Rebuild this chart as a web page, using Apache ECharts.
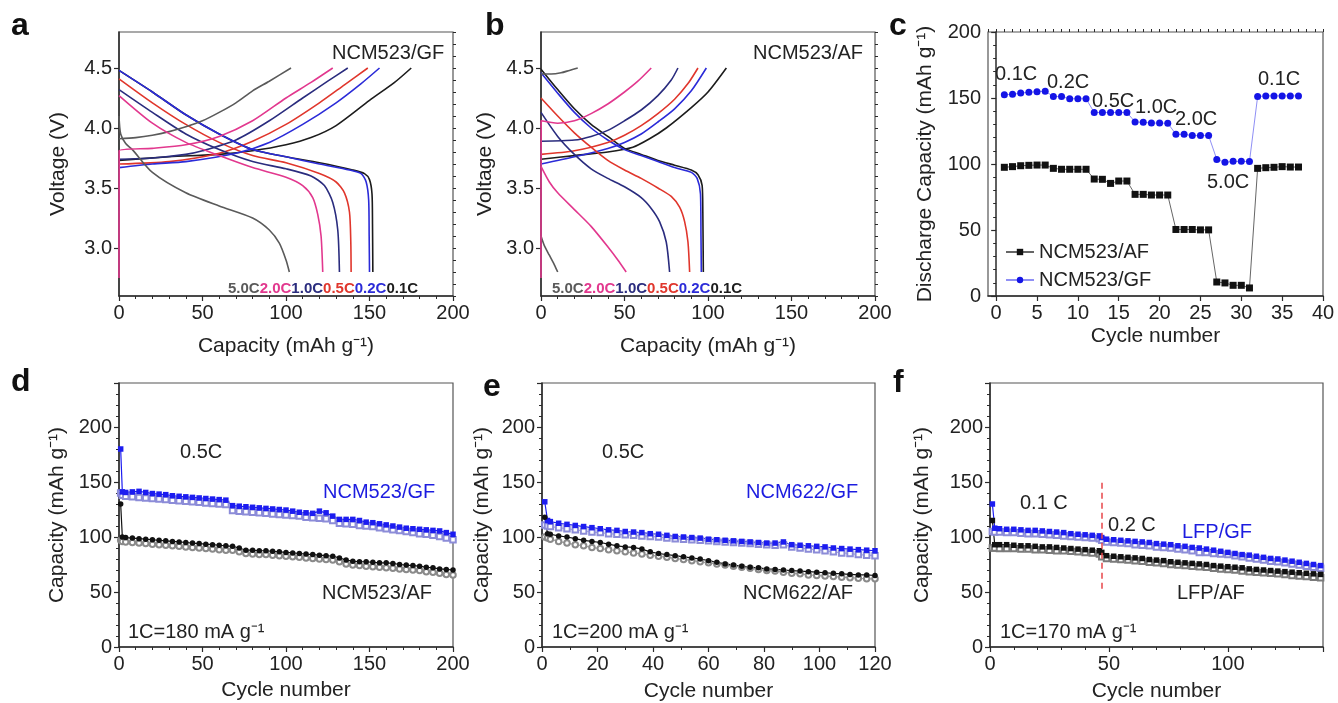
<!DOCTYPE html>
<html><head><meta charset="utf-8">
<script src="https://cdn.jsdelivr.net/npm/echarts@6/dist/echarts.min.js"></script>
<style>html,body{margin:0;padding:0;background:#fff}#chart{width:1338px;height:703px}</style>
</head><body><div id="chart"></div>
<script>
// ---------------- DATA ----------------
// Panel a: NCM523/GF charge (chg) / discharge (dis) curves, [capacity, voltage]
const aChg01 = [[0,3.73],[30,3.76],[60,3.78],[80,3.81],[100,3.86],[115,3.92],[130,4.02],[150,4.23],[165,4.38],[175,4.5]];
const aChg02 = [[0,3.67],[20,3.7],[40,3.72],[70,3.79],[90,3.88],[110,4.03],[130,4.21],[145,4.37],[156,4.5]];
const aChg05 = [[0,3.7],[30,3.72],[60,3.79],[80,3.89],[100,4.03],[120,4.21],[135,4.36],[149,4.5]];
const aChg10 = [[0,3.74],[20,3.75],[40,3.78],[50,3.81],[70,3.9],[90,4.06],[110,4.25],[125,4.39],[137,4.5]];
const aChg20 = [[0,2.75],[0.1,3.81],[20,3.83],[40,3.86],[60,3.93],[80,4.06],[100,4.25],[115,4.38],[128,4.5]];
const aChg50 = [[0,3.91],[10,3.92],[20,3.94],[30,3.97],[40,4.01],[50,4.06],[60,4.13],[70,4.21],[80,4.31],[90,4.39],[103,4.5]];
const aDis01 = [[0,4.48],[20,4.3],[40,4.11],[60,3.95],[80,3.82],[100,3.76],[120,3.71],[140,3.65],[147,3.62],[150,3.57],[151.5,3.45],[151.8,3.2],[152,2.8]];
const aDis02 = [[0,4.48],[20,4.3],[40,4.11],[60,3.95],[80,3.82],[100,3.76],[120,3.7],[138,3.65],[145,3.62],[148,3.55],[149.5,3.4],[149.8,3.1],[150,2.8]];
const aDis05 = [[0,4.41],[20,4.21],[40,4.03],[60,3.88],[80,3.77],[100,3.71],[120,3.62],[130,3.55],[135,3.46],[138,3.3],[138.8,3.05],[139,2.8]];
const aDis10 = [[0,4.32],[20,4.13],[40,3.95],[60,3.82],[80,3.72],[100,3.66],[115,3.6],[123,3.52],[128,3.38],[131,3.15],[132,2.8]];
const aDis20 = [[0,4.27],[20,4.04],[40,3.88],[60,3.77],[80,3.67],[100,3.59],[110,3.52],[116,3.42],[119,3.28],[121,3.1],[122,2.8]];
const aDis50 = [[0,4.1],[1,3.95],[4,3.87],[8,3.82],[20,3.63],[40,3.46],[60,3.35],[80,3.25],[90,3.15],[96,3.04],[100,2.9],[102,2.8]];

// Panel b: NCM523/AF
const bChg01 = [[0,3.74],[20,3.77],[40,3.8],[55,3.84],[65,3.91],[75,4.0],[90,4.17],[100,4.3],[111,4.5]];
const bChg02 = [[0,3.7],[20,3.76],[40,3.83],[50,3.88],[60,3.95],[70,4.05],[80,4.16],[90,4.31],[99,4.5]];
const bChg05 = [[0,3.78],[20,3.81],[40,3.88],[50,3.94],[60,4.02],[70,4.12],[80,4.24],[88,4.37],[94,4.5]];
const bChg10 = [[0,3.89],[20,3.9],[30,3.93],[40,3.98],[50,4.06],[60,4.15],[70,4.27],[78,4.4],[82,4.5]];
const bChg20 = [[0,2.75],[0.1,4.06],[10,4.04],[20,4.06],[30,4.12],[40,4.2],[50,4.3],[58,4.39],[66,4.5]];
const bChg50 = [[0,4.45],[6,4.45],[12,4.46],[17,4.48],[22,4.5]];
const bDis01 = [[0,4.49],[10,4.32],[20,4.16],[30,4.03],[40,3.93],[50,3.83],[60,3.78],[70,3.73],[80,3.69],[90,3.65],[94,3.61],[96.5,3.52],[96.9,3.3],[97.2,2.8]];
const bDis02 = [[0,4.46],[10,4.29],[20,4.13],[30,4.0],[40,3.9],[50,3.82],[60,3.77],[70,3.72],[80,3.67],[90,3.63],[93.5,3.58],[95.5,3.45],[95.8,3.1],[96,2.8]];
const bDis05 = [[0,4.25],[10,4.1],[20,3.96],[30,3.84],[40,3.73],[50,3.65],[60,3.58],[70,3.5],[78,3.43],[83,3.34],[86,3.22],[88,3.05],[89,2.8]];
const bDis10 = [[0,4.13],[10,3.93],[20,3.78],[30,3.66],[40,3.58],[50,3.51],[60,3.42],[66,3.33],[71,3.22],[75,3.05],[77,2.8]];
const bDis20 = [[0,3.68],[5,3.55],[10,3.46],[20,3.32],[30,3.18],[40,3.01],[46,2.9],[51,2.8]];
const bDis50 = [[0,3.1],[2,3.02],[5,2.94],[8,2.86],[10,2.8]];

const rateLabels = ['5.0C','2.0C','1.0C','0.5C','0.2C','0.1C'];
const voltTicks = [3.0,3.5,4.0,4.5];

// Panel c: rate capability
const cCycles = [1,2,3,4,5,6,7,8,9,10,11,12,13,14,15,16,17,18,19,20,21,22,23,24,25,26,27,28,29,30,31,32,33,34,35,36,37];
const cGF = [152.4,152.9,153.7,154.4,154.7,155.2,151.1,151.1,149.4,149.4,149.4,139,139,139,139,139,131.9,131.6,131,131,130.9,122.5,122.5,121.5,121.5,121.5,103.5,101.3,102,102,101.8,151.1,151.6,151.6,151.6,151.6,151.6];
const cAF = [97.5,98,98.7,99,99.2,99.2,96.7,96,96,96,96,88.6,88.4,85.3,87.1,87.1,77,77,76.5,76.5,76.5,50.4,50.4,50.4,50.1,50.1,10.6,9.9,8.1,8.1,6.1,96.7,97.2,97.5,98,97.7,97.7];
const cXTicks = [0,5,10,15,20,25,30,35,40];
const cRateText = ['0.1C','0.2C','0.5C','1.0C','2.0C','5.0C','0.1C'];

// Panel d: NCM523 cycling at 0.5C
const dCycles = [1,2,4,8,12,16,20,24,28,32,36,40,44,48,52,56,60,64,68,72,76,80,84,88,92,96,100,104,108,112,116,120,124,128,132,136,140,144,148,152,156,160,164,168,172,176,180,184,188,192,196,200];
const dGFfilled = [180,141,140.5,141,141.5,140.5,139.5,139,138.5,137.5,137,136.5,136,135.5,135,134.5,134,133.5,128.5,128,127.5,127,126.5,126,125.5,125,124.5,123.5,122.5,122,121.5,123.5,122,119,116,116,116,115,113.5,113,112,111,110,109,108,107.5,107,106.5,106,105.5,104,102.5];
const dGFopen = [140,138,137,136.5,136,135.5,135,134.5,134,133.5,133,132.5,132,131.5,131,130.5,130,129.5,124,123.5,123,122.5,122,121.5,121,120.5,120,119.5,119,118,117.5,117,116.5,115,112.5,112,111.5,110.5,110,109.5,108.5,107.5,106.5,106,105,104,103,102.5,101.5,100.5,99,97.5];
const dAFfilled = [130,100,99.5,99,98.5,98,97.5,97,96.5,96,95.5,95,94.5,94,93.5,93,92.5,92,91.5,90,88,88,87.5,87.5,87,86.5,86,85.5,85,84.5,84,83.5,83,82.5,81,79,78,77.5,77.5,77,76.5,76.5,76,75,74.5,74,73.5,72.5,72,71,70.5,70];
const dAFopen = [97,96,95.5,95,94.5,94,93.5,93,92.5,92,91.5,91,90.5,90,89.5,89,88.5,88,88,86.5,85,84.5,84,84,83.5,83,82.5,82,81.5,81,80.5,80,79.5,79,77.5,75.5,74.5,74,73.5,73,72.5,72,71.5,71,70.5,70,69.5,68.5,68,67,66,65.5];

// Panel e: NCM622 cycling at 0.5C
const eCycles = [1,2,3,6,9,12,15,18,21,24,27,30,33,36,39,42,45,48,51,54,57,60,63,66,69,72,75,78,81,84,87,90,93,96,99,102,105,108,111,114,117,120];
const eGFfilled = [132,115,114,112.5,111.5,110.5,109.5,108.5,107.5,106.5,106,105,104.5,104,103,102.5,101.5,100.5,100,99.5,99,98,97.5,97,96.5,96,95.5,95,94.5,94.5,95.5,93,92.5,92,91.5,91,90,89.5,89,88.5,88,87.5];
const eGFopen = [111,110,109.5,108.5,107.5,106.5,105.5,104.5,104,103,102.5,102,101.5,101,100.5,100,99,98.5,98,97.5,97,96.5,96,95.5,95,94.5,94,93.5,93,92.5,93,91,90,89,88.5,87.5,86.5,85.5,85,84,83.5,83];
const eAFfilled = [118,103,102.5,101,100,98.5,97,96,95,93.5,92,91,90.5,89,86.5,85,84,83,82,81,80,78.5,77,75.5,74.5,73.5,72.5,72,71,70.5,70,69.5,69,68.5,68,67.5,67,66.5,66,65.5,65.5,65];
const eAFopen = [100,99,98,96,94.5,93,92,90.5,89.5,88.5,87.5,86.5,85.5,84.5,83.5,82.5,81.5,80.5,79.5,78.5,77.5,76.5,75.5,74.5,73.5,72.5,71.5,70.5,69.5,69,68,67,66.5,65.5,65,64.5,64,63.5,63,62.5,62,62];

// Panel f: LFP cycling (0.1C then 0.2C)
const fCycles = [1,2,4,7,10,13,16,19,22,25,28,31,34,37,40,43,46,47,49,52,55,58,61,64,67,70,73,76,79,82,85,88,91,94,97,100,103,106,109,112,115,118,121,124,127,130,133,136,139];
const fGFfilled = [130,108,107.5,107,107,106.5,106,106,105.5,105,104.5,104,103,102.5,102,101.5,101,99.5,98,97.5,97,96.5,96,95.5,95,94,93.5,93,92,91.5,90.5,90,89,88,87,86,85,84,83.5,82.5,81.5,80.5,80,79,78,77,76,75,74];
const fGFopen = [105,104.5,104.5,104,104,103.5,103,103,102.5,102,101.5,101,100.5,100,99.5,99,98.5,97,95.5,95,94.5,94,93,92.5,92,91,90.5,90,89,88.5,87.5,86,86,85,84.5,84,83,82,81,80,79,78,77.5,76.5,75.5,74.5,73.5,72.5,71.5];
const fAFfilled = [115,93,93,93,92.5,92,92,91.5,91,91,90.5,90,89.5,89,88.5,88,87.5,86,83,82.5,82,81.5,81,80.5,79.5,79,78.5,77.5,77,76.5,76,75.5,75,74,73.5,73,72.5,72,71,70.5,70,69.5,69,68.5,68,67.5,67,66.5,66];
const fAFopen = [90,90,89.5,89.5,89.5,89,89,88.5,88.5,88,87.5,87.5,87,86.5,86,85.5,84.5,82,80.5,80,79.5,79,78.5,78,77,76.5,76,75,74.5,74,73.5,73,72.5,71.5,71,70.5,70,69,68.5,68,67.5,67,66.5,66,65,64.5,64,63.5,63];
const fSwitchCycle = 47;
const fSwitchRange = [53,153];

// ---------------- STYLE ----------------
const FF = '"Liberation Sans", Arial, Helvetica, sans-serif';
const rateColors = {'0.1C':'#1c1c1c','0.2C':'#2b2bd8','0.5C':'#e0362c','1.0C':'#2a2c7e','2.0C':'#e2388e','5.0C':'#5a5a5a'};
const AX = '#2a2a2a';
const SUP = '\u207B\u00B9';

const grids = [
  {left:119, top:32, width:334, height:264},
  {left:541, top:32, width:334, height:264},
  {left:988, top:32, width:335, height:264},
  {left:119, top:383, width:334, height:264},
  {left:542, top:383, width:333, height:264},
  {left:990, top:383, width:333, height:264}
].map(g => Object.assign(g, {show:true, borderColor:'#555', borderWidth:1.2, containLabel:false, outerBoundsMode:'none'}));

function axisBase(extra) {
  const base = {
    type:'value', nameLocation:'middle', nameMoveOverlap:false,
    nameTextStyle:{fontFamily:FF, fontSize:21, color:'#222'},
    axisLine:{show:true, lineStyle:{color:AX, width:1.5}},
    axisTick:{show:true, inside:false, length:5, lineStyle:{color:AX, width:1.2}},
    minorTick:{show:true, splitNumber:5, length:3, lineStyle:{color:AX, width:1}},
    axisLabel:{fontFamily:FF, fontSize:20, color:'#222', margin:7},
    splitLine:{show:false}, minorSplitLine:{show:false}
  };
  for (const k in extra) {
    if (typeof extra[k] === 'object' && !Array.isArray(extra[k]) && base[k]) base[k] = Object.assign({}, base[k], extra[k]);
    else base[k] = extra[k];
  }
  return base;
}
// overlay axis that only draws short minor ticks
function minorAxis(gridIndex, min, max, step) {
  return {type:'value', gridIndex:gridIndex, min:min, max:max, interval:step, silent:true,
    axisLine:{show:false}, axisLabel:{show:false}, splitLine:{show:false},
    axisTick:{show:true, inside:false, length:3, lineStyle:{color:AX, width:1}}};
}
const capName = 'Capacity (mAh g' + SUP + ')';
const xAxes = [
  axisBase({gridIndex:0, min:0, max:200, interval:50, name:capName, nameGap:40}),
  axisBase({gridIndex:1, min:0, max:200, interval:50, name:capName, nameGap:40}),
  axisBase({gridIndex:2, min:-1, max:40, name:'Cycle number', nameGap:30,
    axisLabel:{customValues:cXTicks}, axisTick:{customValues:cXTicks}, minorTick:{show:false}}),
  axisBase({gridIndex:3, min:0, max:200, interval:50, name:'Cycle number', nameGap:33}),
  axisBase({gridIndex:4, min:0, max:120, interval:20, name:'Cycle number', nameGap:34, minorTick:{splitNumber:2}}),
  axisBase({gridIndex:5, min:0, max:140, interval:50, name:'Cycle number', nameGap:34, axisLabel:{showMaxLabel:false}}),
  minorAxis(2, -1, 40, 1)
];
const voltFmt = v => v.toFixed(1);
const yAxes = [
  axisBase({gridIndex:0, min:2.6, max:4.8, name:'Voltage (V)', nameGap:50, nameRotate:90,
    axisLabel:{customValues:voltTicks, formatter:voltFmt}, axisTick:{customValues:voltTicks}, minorTick:{show:false}}),
  axisBase({gridIndex:1, min:2.6, max:4.8, name:'Voltage (V)', nameGap:45, nameRotate:90,
    axisLabel:{customValues:voltTicks, formatter:voltFmt}, axisTick:{customValues:voltTicks}, minorTick:{show:false}}),
  axisBase({gridIndex:2, min:0, max:200, interval:50, name:'Discharge Capacity (mAh g' + SUP + ')', nameGap:52, nameRotate:90}),
  axisBase({gridIndex:3, min:0, max:240, interval:50, name:capName, nameGap:51, nameRotate:90, axisLabel:{showMaxLabel:false}}),
  axisBase({gridIndex:4, min:0, max:240, interval:50, name:capName, nameGap:49, nameRotate:90, axisLabel:{showMaxLabel:false}}),
  axisBase({gridIndex:5, min:0, max:240, interval:50, name:capName, nameGap:57, nameRotate:90, axisLabel:{showMaxLabel:false}}),
  minorAxis(0, 2.6, 4.8, 0.1),
  minorAxis(1, 2.6, 4.8, 0.1)
];

const series = [];
function curve(gi, data, rate) {
  series.push({type:'line', xAxisIndex:gi, yAxisIndex:gi, data:data, showSymbol:false, symbol:'none',
    smooth:0.25, silent:true, lineStyle:{color:rateColors[rate], width:1.6}, itemStyle:{color:rateColors[rate]}});
}
// panel a
curve(0,aChg01,'0.1C'); curve(0,aDis01,'0.1C');
curve(0,aChg05,'0.5C'); curve(0,aDis05,'0.5C');
curve(0,aChg10,'1.0C'); curve(0,aDis10,'1.0C');
curve(0,aChg02,'0.2C'); curve(0,aDis02,'0.2C');
curve(0,aChg50,'5.0C'); curve(0,aDis50,'5.0C');
curve(0,aChg20,'2.0C'); curve(0,aDis20,'2.0C');
// panel b
curve(1,bChg01,'0.1C'); curve(1,bDis01,'0.1C');
curve(1,bChg02,'0.2C'); curve(1,bDis02,'0.2C');
curve(1,bChg05,'0.5C'); curve(1,bDis05,'0.5C');
curve(1,bChg10,'1.0C'); curve(1,bDis10,'1.0C');
curve(1,bChg50,'5.0C'); curve(1,bDis50,'5.0C');
curve(1,bChg20,'2.0C'); curve(1,bDis20,'2.0C');

// panel c
const zip = (xs, ys) => xs.map((x, i) => [x, ys[i]]);
series.push({name:'NCM523/AF', type:'line', xAxisIndex:2, yAxisIndex:2, data:zip(cCycles,cAF),
  symbol:'rect', symbolSize:7, itemStyle:{color:'#111'}, lineStyle:{color:'#666', width:1}});
series.push({name:'NCM523/GF', type:'line', xAxisIndex:2, yAxisIndex:2, data:zip(cCycles,cGF),
  symbol:'circle', symbolSize:7, itemStyle:{color:'#1414e6'}, lineStyle:{color:'#8f8ff5', width:1}});

function cyc(gi, name, xs, ys, symbol, color, lineColor, size) {
  series.push({name:name, type:'line', xAxisIndex:gi, yAxisIndex:gi, data:zip(xs, ys), symbol:symbol,
    symbolSize:size || 5.5, itemStyle:{color:color, borderWidth:1}, lineStyle:{color:lineColor, width:1.2}, silent:true});
}
// panel d
cyc(3,'d-GF-o',dCycles,dGFopen,'emptyRect','#8c8cd8','#a8a8e8');
cyc(3,'d-GF-f',dCycles,dGFfilled,'rect','#1c1cf0','#1c1cf0');
cyc(3,'d-AF-o',dCycles,dAFopen,'emptyCircle','#8a8a8a','#a0a0a0');
cyc(3,'d-AF-f',dCycles,dAFfilled,'circle','#111','#111');
// panel e
cyc(4,'e-GF-o',eCycles,eGFopen,'emptyRect','#8c8cd8','#a8a8e8');
cyc(4,'e-GF-f',eCycles,eGFfilled,'rect','#1c1cf0','#1c1cf0');
cyc(4,'e-AF-o',eCycles,eAFopen,'emptyCircle','#8a8a8a','#a0a0a0');
cyc(4,'e-AF-f',eCycles,eAFfilled,'circle','#111','#111');
// panel f
cyc(5,'f-GF-o',fCycles,fGFopen,'emptyRect','#8c8cd8','#a8a8e8');
cyc(5,'f-GF-f',fCycles,fGFfilled,'rect','#1c1cf0','#1c1cf0');
cyc(5,'f-AF-o',fCycles,fAFopen,'emptyRect','#7a7a7a','#999');
cyc(5,'f-AF-f',fCycles,fAFfilled,'rect','#111','#111');
series.push({type:'line', xAxisIndex:5, yAxisIndex:5, data:[], silent:true,
  markLine:{silent:true, symbol:'none', label:{show:false},
    lineStyle:{color:'#e8454a', type:[6,4], width:1.5},
    data:[[{coord:[fSwitchCycle, fSwitchRange[0]]},{coord:[fSwitchCycle, fSwitchRange[1]]}]]}});

// ---------------- TEXT ----------------
function txt(x, y, text, opts) {
  return Object.assign({type:'text', silent:true, style:Object.assign({x:x, y:y, text:text,
    font:'20px ' + FF, fill:'#222', align:'left', verticalAlign:'middle'}, opts || {})});
}
const bold15 = w => ({fontSize:15, fontWeight:'bold', fontFamily:FF, fill:w});
const rateRich = {
  g:bold15(rateColors['5.0C']), m:bold15(rateColors['2.0C']), n:bold15(rateColors['1.0C']),
  r:bold15(rateColors['0.5C']), b:bold15(rateColors['0.2C']), k:bold15(rateColors['0.1C'])
};
const richKeys = ['g','m','n','r','b','k'];
const rateStr = rateLabels.map((l, i) => '{' + richKeys[i] + '|' + l + '}').join('');
const letter = (x, y, t) => txt(x, y, t, {font:'bold 32px ' + FF, fill:'#111'});

const cPos = [[995,74],[1047,82],[1092,101],[1135,107],[1175,119],[1207,182],[1258,79]];
const graphics = [
  letter(11, 26, 'a'), letter(485, 26, 'b'), letter(889, 26, 'c'),
  letter(11, 382, 'd'), letter(483, 387, 'e'), letter(893, 383, 'f'),
  txt(332, 53, 'NCM523/GF'),
  txt(753, 53, 'NCM523/AF'),
  txt(228, 289, rateStr, {rich:rateRich, font:'bold 15px ' + FF}),
  txt(552, 289, rateStr, {rich:rateRich, font:'bold 15px ' + FF}),
  ...cRateText.map((t, i) => txt(cPos[i][0], cPos[i][1], t)),
  txt(180, 452, '0.5C'),
  txt(323, 492, 'NCM523/GF', {fill:'#1c1ce0'}),
  txt(322, 593, 'NCM523/AF'),
  txt(128, 632, '1C=180 mA g' + SUP),
  txt(602, 452, '0.5C'),
  txt(746, 492, 'NCM622/GF', {fill:'#1c1ce0'}),
  txt(743, 593, 'NCM622/AF'),
  txt(552, 632, '1C=200 mA g' + SUP),
  txt(1020, 503, '0.1 C'),
  txt(1108, 525, '0.2 C'),
  txt(1182, 532, 'LFP/GF', {fill:'#1c1ce0'}),
  txt(1177, 593, 'LFP/AF'),
  txt(1000, 632, '1C=170 mA g' + SUP)
];

const chart = echarts.init(document.getElementById('chart'), null, {renderer:'canvas', width:1338, height:703});
chart.setOption({
  animation:false,
  backgroundColor:'#fff',
  textStyle:{fontFamily:FF},
  grid:grids,
  xAxis:xAxes,
  yAxis:yAxes,
  legend:{left:1000, top:237, orient:'vertical', itemGap:8, itemWidth:28, itemHeight:8,
    selectedMode:false, data:['NCM523/AF','NCM523/GF'],
    textStyle:{fontFamily:FF, fontSize:20, color:'#222'}},
  series:series,
  graphic:graphics
});
</script></body></html>
